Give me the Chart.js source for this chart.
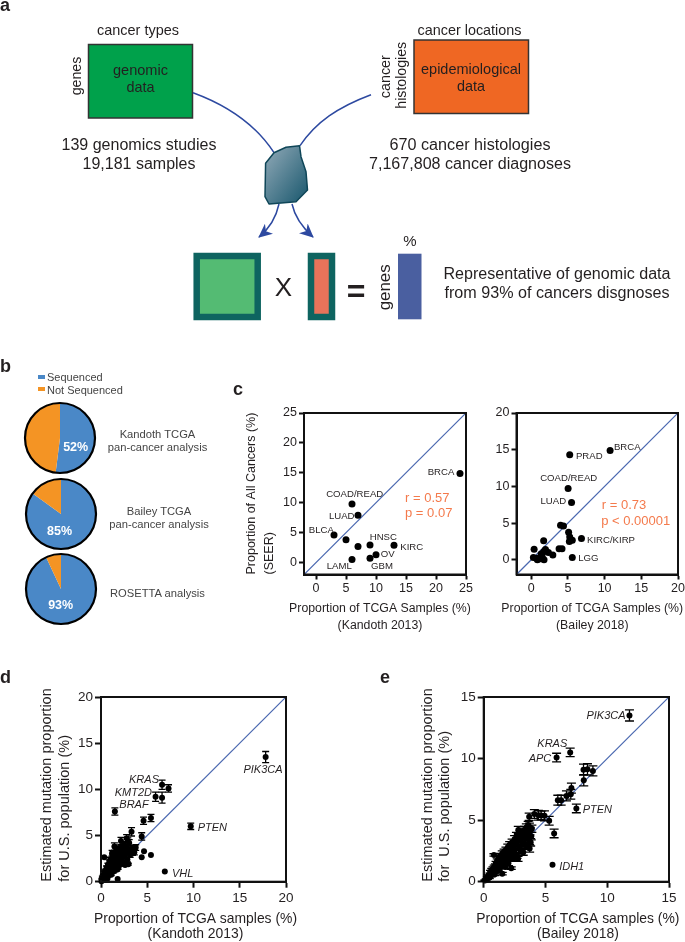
<!DOCTYPE html>
<html>
<head>
<meta charset="utf-8">
<title>Genomic data representativeness</title>
<script src="https://cdn.jsdelivr.net/npm/chart.js@4/dist/chart.umd.min.js"></script>
<style>
html,body{margin:0;padding:0;background:#fff;}
#page{position:relative;width:685px;height:942px;overflow:hidden;background:#fff;}
canvas{position:absolute;display:block;}
svg{position:absolute;left:0;top:0;z-index:5;}
text{font-family:"Liberation Sans",Arial,sans-serif;fill:#231f20;dominant-baseline:central;}
.m{text-anchor:middle;}
.lab{font-size:9.6px;text-anchor:middle;}
.gene{font-size:11px;font-style:italic;text-anchor:middle;}
.stat{font-size:13px;fill:#f47a4c;text-anchor:middle;}
.pan{font-size:18px;font-weight:bold;}
.big{font-size:16px;text-anchor:middle;}
.pct{font-size:12.5px;font-weight:bold;fill:#fff;text-anchor:middle;}
.pie{font-size:11.2px;fill:#444;text-anchor:middle;}
</style>
</head>
<body>
<div id="page">
<svg width="685" height="942" viewBox="0 0 685 942">
<defs>
<linearGradient id="blob" x1="0" y1="0" x2="1" y2="1"><stop offset="0" stop-color="#93abb9"/><stop offset="1" stop-color="#17566c"/></linearGradient>
<marker id="ah" markerUnits="userSpaceOnUse" markerWidth="14" markerHeight="13" refX="13" refY="6.5" orient="auto"><path d="M0,0 L14,6.5 L0,13 L4,6.5 Z" fill="#2d49a0"/></marker>
</defs>
<text class="pan" x="0" y="5">a</text><text class="pan" x="0" y="366">b</text><text class="pan" x="233" y="389">c</text><text class="pan" x="0" y="677">d</text><text class="pan" x="380" y="677">e</text>

<text class="m" x="138" y="29" font-size="15" textLength="82" lengthAdjust="spacingAndGlyphs">cancer types</text>
<text class="m" x="469.5" y="29" font-size="15" textLength="104" lengthAdjust="spacingAndGlyphs">cancer locations</text>
<rect x="88.5" y="44.5" width="104" height="73.5" fill="#00a14b" stroke="#333" stroke-width="1.5"/>
<rect x="414" y="40" width="114.5" height="73.5" fill="#ef6723" stroke="#333" stroke-width="1.5"/>
<text class="m" x="140.5" y="69" font-size="15" textLength="55" lengthAdjust="spacingAndGlyphs">genomic</text>
<text class="m" x="140.5" y="86" font-size="15" textLength="28" lengthAdjust="spacingAndGlyphs">data</text>
<text class="m" x="471" y="68" font-size="15" textLength="100" lengthAdjust="spacingAndGlyphs">epidemiological</text>
<text class="m" x="471" y="85.3" font-size="15" textLength="28" lengthAdjust="spacingAndGlyphs">data</text>
<text class="m" transform="translate(75.5 76) rotate(-90)" font-size="14" textLength="38.7" lengthAdjust="spacingAndGlyphs">genes</text>
<text class="m" transform="translate(384.5 76.7) rotate(-90)" font-size="14" textLength="43" lengthAdjust="spacingAndGlyphs">cancer</text>
<text class="m" transform="translate(401 75.3) rotate(-90)" font-size="14" textLength="66.7" lengthAdjust="spacingAndGlyphs">histologies</text>
<text class="big" x="139" y="144.7" textLength="155" lengthAdjust="spacingAndGlyphs">139 genomics studies</text>
<text class="big" x="139" y="163.7" textLength="113" lengthAdjust="spacingAndGlyphs">19,181 samples</text>
<text class="big" x="470" y="144.7" textLength="161" lengthAdjust="spacingAndGlyphs">670 cancer histologies</text>
<text class="big" x="470" y="163.7" textLength="202" lengthAdjust="spacingAndGlyphs">7,167,808 cancer diagnoses</text>
<path d="M193,92.7 C232,107 258,128 274,152.7" fill="none" stroke="#2d49a0" stroke-width="1.5"/>
<path d="M371,94.7 C338,107 316,122 300,145.7" fill="none" stroke="#2d49a0" stroke-width="1.5"/>
<path d="M274,152.7 L286,147.3 L299.5,145.7 L301,156.7 L306,171.7 L307.5,190 L296,201.7 L269,204 L265,196.7 L265.6,163.3 Z" fill="url(#blob)" stroke="#0f4658" stroke-width="1.5" stroke-linejoin="round"/>
<path d="M279,204 C276,218 270,228 259,237" fill="none" stroke="#2d49a0" stroke-width="1.5" marker-end="url(#ah)"/>
<path d="M292,204 C295,218 303,228 313,237" fill="none" stroke="#2d49a0" stroke-width="1.5" marker-end="url(#ah)"/>
<rect x="196.7" y="256" width="61" height="61" fill="#54bb73" stroke="#0e6460" stroke-width="6.5"/>
<rect x="311" y="256" width="21" height="61" fill="#e8735a" stroke="#0e6460" stroke-width="6.5"/>
<text class="m" x="283.5" y="286.7" font-size="26">X</text>
<text class="m" x="356" y="291" font-size="32" font-weight="bold">=</text>
<text class="m" transform="translate(384.5 287.3) rotate(-90)" font-size="17" textLength="46" lengthAdjust="spacingAndGlyphs">genes</text>
<rect x="398" y="253.7" width="23.5" height="65.6" fill="#4a5fa0"/>
<text class="m" x="410" y="240" font-size="15">%</text>
<text class="m" x="557" y="273.3" font-size="16" textLength="227" lengthAdjust="spacingAndGlyphs">Representative of genomic data</text>
<text class="m" x="557" y="292.3" font-size="16" textLength="225" lengthAdjust="spacingAndGlyphs">from 93% of cancers disgnoses</text>

<rect x="38" y="375" width="7" height="4" fill="#4a88c7"/>
<rect x="38" y="387" width="7" height="4" fill="#f49424"/>
<text x="47" y="377" font-size="11" style="fill:#444">Sequenced</text>
<text x="47" y="389.5" font-size="11" style="fill:#444">Not Sequenced</text>
<text class="pct" x="75.7" y="446.7">52%</text><text class="pct" x="59.5" y="530.7">85%</text><text class="pct" x="60.7" y="605.3">93%</text>
<text class="pie" x="157.5" y="434">Kandoth TCGA</text><text class="pie" x="157.5" y="447">pan-cancer analysis</text>
<text class="pie" x="159" y="511">Bailey TCGA</text><text class="pie" x="159" y="524">pan-cancer analysis</text>
<text class="pie" x="157.5" y="593">ROSETTA analysis</text>

<text class="lab" x="441" y="471.7">BRCA</text><text class="lab" x="354.7" y="493">COAD/READ</text><text class="lab" x="341.7" y="515.3">LUAD</text><text class="lab" x="321.3" y="529.7">BLCA</text><text class="lab" x="383.3" y="536.3">HNSC</text><text class="lab" x="411.7" y="546">KIRC</text><text class="lab" x="387.7" y="553.7">OV</text><text class="lab" x="382" y="565">GBM</text><text class="lab" x="339.3" y="565.7">LAML</text>
<text class="stat" x="427.3" y="497.7">r = 0.57</text><text class="stat" x="428.7" y="512.7">p = 0.07</text>
<text class="lab" x="627.3" y="446.7">BRCA</text><text class="lab" x="589.3" y="455.7">PRAD</text><text class="lab" x="568.7" y="477">COAD/READ</text><text class="lab" x="553.3" y="500.7">LUAD</text><text class="lab" x="611" y="539.3">KIRC/KIRP</text><text class="lab" x="588.3" y="557.7">LGG</text>
<text class="stat" x="624" y="504.7">r = 0.73</text><text class="stat" x="635.7" y="520">p &lt; 0.00001</text>

<text class="gene" x="144" y="779">KRAS</text><text class="gene" x="133.3" y="791.7">KMT2D</text><text class="gene" x="134" y="804">BRAF</text><text class="gene" x="263" y="768.7">PIK3CA</text><text class="gene" x="212.3" y="827.3">PTEN</text><text class="gene" x="182.7" y="872.7">VHL</text>
<text class="gene" x="606" y="714.7">PIK3CA</text><text class="gene" x="552.3" y="743.3">KRAS</text><text class="gene" x="540" y="758">APC</text><text class="gene" x="597.3" y="809">PTEN</text><text class="gene" x="571.7" y="865.7">IDH1</text>
</svg>
</div>
<script>
// ---------- data ----------
const pieSeries = [[52, 48], [85, 15], [93, 7]];
const pieCategories = ['Sequenced', 'Not Sequenced'];
const pieColors = ['#4a88c7', '#f49424'];

const kandothSeer = [[24,14.9],[6,9.8],[7,7.9],[3,4.6],[5,3.8],[7,2.7],[9,2.95],[13,2.9],[10,1.3],[9,0.7],[6,0.5]];
const baileySeer = [[10.75,14.9],[5.25,14.3],[5.03,9.73],[5.5,7.8],[4,4.7],[4.4,4.6],[5.1,3.75],[5.25,3.1],[5.6,2.65],[5.2,2.5],[6.85,2.9],[5.6,0.3],[1.7,2.6],[0.4,1.45],[3.8,1.5],[4.2,1.5],[1.95,1.4],[2.35,1],[2.95,0.65],[1.35,0.8],[1.7,1.1],[0.3,0.3],[0.85,0],[1.2,0.15],[1.75,0],[0.7,0.2],[1.5,0.4]];

// [TCGA %, estimated %, error]
const kandothGenes = [[17.8,13.5,.6],[6.6,10.5,.5],[7.3,10.1,.4],[5.9,9.2,.5],[6.6,9.1,.6],[1.5,7.6,.4],[4.6,6.6,.4],[5.4,6.9,.4],[9.7,6,.35],[3.3,5.4,.45],[4.4,4.9,.4],[6.9,1.1,0],[4.65,3.3,0],[4.4,2.65,0],[5.4,2.9,0],[1.8,.3,0],[.35,2.65,0],
[.05,.05,0],[.1,.3,.05],[.15,.5,.1],[.2,.15,0],[.25,.7,.1],[.3,.4,.1],[.35,1,.15],[.4,.2,0],[.45,.8,.1],[.5,1.2,.15],[.55,.55,.1],[.6,1.5,.2],[.65,.95,.15],[.7,.35,0],[.75,1.8,.2],[.8,1.25,.15],[.85,.7,.1],[.9,2.1,.25],[.95,1.55,.2],[1,1,.15],[1,2.4,.25],[1.05,1.85,.2],[1.1,.75,.1],[1.15,2.25,.25],[1.2,1.4,.2],[1.25,2.7,.3],[1.3,1.9,.2],[1.35,1.1,.15],[1.4,2.45,.25],[1.45,3.8,.4],[1.45,3.1,.3],[1.5,1.7,.2],[1.55,2.8,.3],[1.6,2.2,.25],[1.65,3.4,.35],[1.7,1.3,.15],[1.75,2.6,.3],[1.8,3.05,.3],[1.85,1.45,.1],[1.9,2.3,.25],[1.95,3.6,.35],[2,2.8,.3],[2.05,1.9,.2],[2.1,3.2,.3],[2.16,4.4,.4],[2.2,2.5,.25],[2.25,3.7,.35],[2.3,3,.3],[2.4,2.1,.2],[2.45,3.4,.3],[2.5,4,.35],[2.55,2.7,.25],[2.6,1.8,.1],[2.7,3.1,.3],[2.77,4.7,.4],[2.8,3.7,.35],[2.85,2.4,.25],[2.95,1.9,.1],[3,3.4,.3],[3.05,4.2,.35],[3.15,2.9,.25],[3.3,3.6,.3],[3.4,3.1,.25],[3.5,3.5,.3],[3.6,3.2,.3],[3.75,3.7,.3],[1.2,3.1,.3],[.7,1.4,.2],[1.0,1.6,.2],[1.5,2.4,.25],[2,3.3,.3],[2.6,3.5,.3],[2.9,4.4,.35],[2.2,2.0,.2]];

const baileyGenes = [[11.8,13.5,.45],[7,10.5,.35],[5.9,10.08,.35],[8.08,9.1,.45],[8.4,9.13,.45],[8.84,9,.4],[8.1,8.24,.45],[7.1,7.6,.4],[7.05,7.1,.4],[6.7,6.97,.4],[6,6.62,.4],[6.27,6.62,.4],[7.5,5.95,.35],[3.68,5.27,.3],[4.1,5.5,.35],[4.43,5.4,.4],[4.65,5.38,.35],[4.92,5.35,.4],[5.3,4.95,.35],[5.7,3.92,.35],[5.57,1.38,0],
[.1,.1,.05],[.2,.15,.08],[.3,.3,.1],[.35,.45,.1],[.45,.35,.1],[.5,.6,.1],[.55,.8,.12],[.6,.5,.1],[.65,.95,.12],[.7,.7,.12],[.75,1.05,.15],[.8,.85,.12],[.85,1.2,.15],[.83,2.17,.1],[.9,.6,.1],[.95,1.3,.15],[1,1.05,.15],[1,1.5,.15],[1.05,.85,.12],[1.1,1.7,.15],[1.15,1.2,.15],[1.2,1.95,.2],[1.25,1.45,.15],[1.3,.95,.15],[1.35,2.1,.2],[1.4,1.7,.15],[1.45,1.25,.15],[1.5,.65,.1],[1.5,2.3,.2],[1.55,1.9,.2],[1.6,1.5,.2],[1.65,2.45,.2],[1.7,2.05,.2],[1.75,1.2,.15],[1.8,2.6,.2],[1.85,1.75,.2],[1.9,2.25,.2],[1.95,2.8,.25],[2,1.5,.2],[2.05,2.5,.2],[2.1,3,.25],[2.15,2,.2],[2.2,2.75,.25],[2.23,1.1,.1],[2.3,3.2,.25],[2.35,2.35,.2],[2.4,1.85,.2],[2.45,2.95,.25],[2.5,3.45,.3],[2.55,2.6,.25],[2.6,3.1,.25],[2.65,3.7,.3],[2.7,2.1,.2],[2.78,1.85,.2],[2.8,4.2,.3],[2.85,3.3,.3],[2.9,2.8,.25],[2.95,3.85,.3],[3,2.5,.25],[3.05,3.5,.3],[3.1,4.05,.3],[3.15,3.1,.3],[3.2,2.4,.25],[3.25,3.7,.3],[3.3,4.2,.3],[3.35,3,.3],[3.4,3.5,.3],[3.45,4.4,.3],[3.5,3.9,.3],[3.55,2.9,.3],[3.6,4.6,.3],[3.65,3.4,.3],[3.72,2.7,.3],[3.75,4.1,.3],[3.8,3.2,.3],[3.85,3.7,.3],[3.9,4.3,.3],[3.7,4.45,.3]];

const identityC1 = [[-2,-2],[25,25]];
const identityC2 = [[-2,-2],[20,20]];
const identityD = [[0,0],[20,20]];
const identityE = [[0,0],[15,15]];
const ticksC1 = [0,5,10,15,20,25];
const ticksC2 = [0,5,10,15,20];
const ticksE = [0,5,10,15];

// ---------- drawing ----------
const INK = '#231f20', FONT = '"Liberation Sans", Arial, sans-serif';
Chart.defaults.font.family = FONT;
Chart.defaults.color = INK;
Chart.defaults.animation = false;
const page = document.getElementById('page');

function place(left, top, right, bottom) {
  const c = document.createElement('canvas');
  c.width = right - left; c.height = bottom - top;
  c.style.left = left + 'px'; c.style.top = top + 'px';
  c.style.width = (right - left) + 'px'; c.style.height = (bottom - top) + 'px';
  page.appendChild(c);
  return c;
}

const boxPlugin = { id: 'box', afterDatasetsDraw(chart) {
  const a = chart.chartArea, g = chart.ctx;
  g.save(); g.strokeStyle = '#111'; g.lineWidth = 2;
  g.strokeRect(a.left, a.top, a.right - a.left, a.bottom - a.top);
  g.restore();
}};
const errPlugin = { id: 'err', afterDatasetsDraw(chart, args, opts) {
  const g = chart.ctx, x = chart.scales.x, y = chart.scales.y;
  g.save(); g.strokeStyle = '#000'; g.lineWidth = 1.3;
  (opts.rows || []).forEach(r => {
    if (!r[2]) return;
    const px = x.getPixelForValue(r[0]), hi = y.getPixelForValue(r[1] + r[2]), lo = y.getPixelForValue(r[1] - r[2]);
    g.beginPath();
    g.moveTo(px, hi); g.lineTo(px, lo);
    g.moveTo(px - opts.cap, hi); g.lineTo(px + opts.cap, hi);
    g.moveTo(px - opts.cap, lo); g.lineTo(px + opts.cap, lo);
    g.stroke();
  });
  g.restore();
}};

function scatter(s) {
  const [L, T, R, B] = s.canvas, [aL, aT, aR, aB] = s.area;
  const axis = (min, max, ticks, title, size, lh, isX) => ({
    type: 'linear', min, max,
    afterBuildTicks: sc => { sc.ticks = ticks.map(v => ({ value: v })); },
    afterFit: sc => {
      if (isX) {
        sc.height = B - aB; sc.paddingLeft = 0; sc.paddingRight = 0;
        // the title is wider than the plot: let it overhang instead of being squeezed
        const base = Object.getPrototypeOf(sc).drawTitle;
        sc.drawTitle = function () {
          const l = this.left, r = this.right;
          this.left = l - 40 + s.titleShift; this.right = r + 40 + s.titleShift;
          base.call(this);
          this.left = l; this.right = r;
        };
      } else { sc.width = aL - L; sc.paddingTop = 0; sc.paddingBottom = 0; }
    },
    border: { display: true, color: '#111', width: 2 },
    grid: { drawOnChartArea: false, drawTicks: true, tickLength: s.tick, tickWidth: 2, tickColor: '#111' },
    ticks: { autoSkip: false, maxRotation: 0, minRotation: 0, padding: 2, color: INK, font: { size: s.tickFont } },
    title: title ? { display: true, text: title, color: INK, padding: 0, align: isX ? 'center' : 'start', font: { size, lineHeight: lh } } : { display: false }
  });
  return new Chart(place(L, T, R, B), {
    type: 'scatter',
    data: { datasets: [
      { data: s.rows.map(r => ({ x: r[0], y: r[1] })), pointRadius: s.r, pointHoverRadius: s.r, pointBackgroundColor: '#000', pointBorderWidth: 0, clip: false, order: 1 },
      { data: s.identity.map(p => ({ x: p[0], y: p[1] })), showLine: true, pointRadius: 0, borderColor: '#4a68b0', borderWidth: 1.2, order: 2 }
    ]},
    options: {
      responsive: false, animation: false,
      layout: { padding: { left: 0, top: aT - T, right: R - aR, bottom: 0 } },
      plugins: { legend: { display: false }, tooltip: { enabled: false }, err: { rows: s.errs ? s.rows : [], cap: s.cap } },
      scales: {
        x: axis(s.xr[0], s.xr[1], s.xt, s.xTitle, s.xSize, s.xLh, true),
        y: axis(s.yr[0], s.yr[1], s.yt, s.yTitle, s.ySize, s.yLh, false)
      }
    },
    plugins: [boxPlugin, errPlugin]
  });
}

scatter({ canvas:[243,402,489,634], area:[304,413,466,574.5], rows:kandothSeer, identity:identityC1, r:3.5, tick:5, tickFont:12.5, xSize:12.3, ySize:12.5, titleShift:-5,
  xr:[-2,25], yr:[-2,25], xt:ticksC1, yt:ticksC1, xLh:1.38, yLh:1.41,
  xTitle:['Proportion of TCGA Samples (%)','(Kandoth 2013)'], yTitle:['Proportion of All Cancers (%)','(SEER)'] });
scatter({ canvas:[485,402,685,634], area:[516.5,413,678,574.5], rows:baileySeer, identity:identityC2, r:3.5, tick:5, tickFont:12.5, xSize:12.3, titleShift:-5,
  xr:[-2,20], yr:[-2,20], xt:ticksC2, yt:ticksC2, xLh:1.38,
  xTitle:['Proportion of TCGA Samples (%)','(Bailey 2018)'] });
scatter({ canvas:[38,685,300,942], area:[101,697,286,881.7], rows:kandothGenes, errs:true, cap:3.5, identity:identityD, r:3, tick:6, tickFont:13.5, xSize:13.9, ySize:14.5, titleShift:2,
  xr:[0,20], yr:[0,20], xt:ticksC2, yt:ticksC2, xLh:1.08, yLh:1.24,
  xTitle:['Proportion of TCGA samples (%)','(Kandoth 2013)'], yTitle:['Estimated mutation proportion','for U.S. population (%)'] });
scatter({ canvas:[420,685,685,942], area:[483.7,697,669,881.7], rows:baileyGenes, errs:true, cap:4.5, identity:identityE, r:3, tick:6, tickFont:13.5, xSize:13.9, ySize:14.5, titleShift:1.5,
  xr:[0,15], yr:[0,15], xt:ticksE, yt:ticksE, xLh:1.08, yLh:1.15,
  xTitle:['Proportion of TCGA samples (%)','(Bailey 2018)'], yTitle:['Estimated mutation proportion','for  U.S. population (%)'] });

const ringPlugin = { id: 'ring', afterDatasetsDraw(chart) {
  const m = chart.getDatasetMeta(0).data[0], g = chart.ctx;
  g.save(); g.strokeStyle = '#000'; g.lineWidth = 2.2;
  g.beginPath(); g.arc(m.x, m.y, m.outerRadius, 0, Math.PI * 2); g.stroke();
  g.restore();
}};
[[59.5, 438], [61, 514], [61, 589]].forEach((c, i) => {
  const canvas = place(c[0] - 38, c[1] - 38, c[0] + 38, c[1] + 38);
  new Chart(canvas, {
    type: 'pie',
    data: { labels: pieCategories, datasets: [{ data: pieSeries[i], backgroundColor: pieColors, borderWidth: 0 }] },
    options: { responsive: false, animation: false, radius: 35, plugins: { legend: { display: false }, tooltip: { enabled: false } } },
    plugins: [ringPlugin]
  });
});
</script>
</body>
</html>
